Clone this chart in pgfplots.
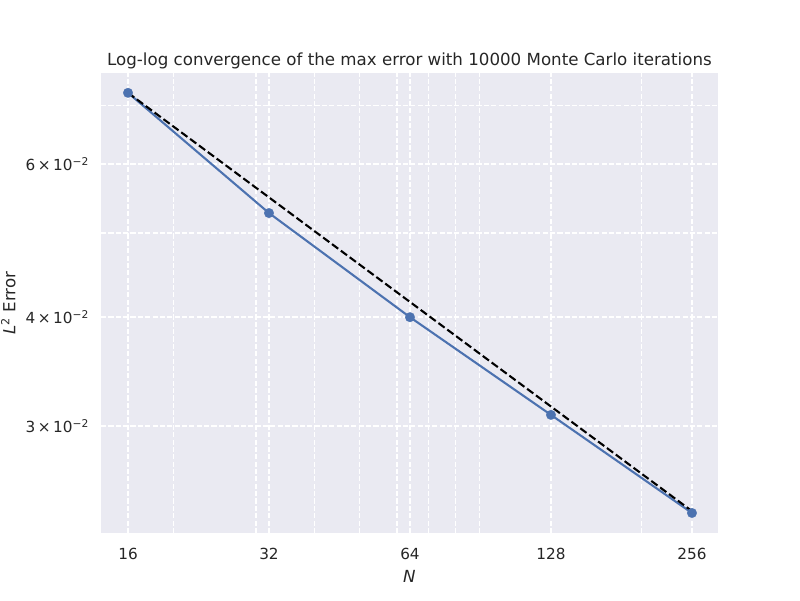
\documentclass[border=0pt]{standalone}
\usepackage{fontspec}
\setmainfont{DejaVu Sans}
\usepackage{pgfplots}
\pgfplotsset{compat=1.18}
\definecolor{sbbg}{HTML}{EAEAF2}
\definecolor{sbblue}{HTML}{4C72B0}
\definecolor{sbtext}{HTML}{262626}
\begin{document}
\begin{tikzpicture}
\path[use as bounding box] (-72.72pt,-48.24pt) rectangle (503.28pt,383.76pt);
\begin{axis}[
  scale only axis,
  width=444.2pt, height=331.2pt,
  xmode=log, ymode=log,
  xmin=14.01, xmax=290.9,
  ymin=0.0226, ymax=0.07632,
  axis background/.style={fill=sbbg},
  axis line style={draw=none},
  xtick={16,32,64,128,256},
  xticklabels={16,32,64,128,256},
  minor xtick={20,30,40,50,60,70,80,90,200},
  ytick={0.03,0.04,0.06},
  yticklabels={{3\,×\,10\textsuperscript{−2}},{4\,×\,10\textsuperscript{−2}},{6\,×\,10\textsuperscript{−2}}},
  minor ytick={0.05,0.07},
  major tick length=0pt, minor tick length=0pt,
  grid=both,
  major grid style={white, line width=1pt, dash pattern=on 3.7pt off 1.6pt},
  minor grid style={white, line width=1pt, dash pattern=on 3.7pt off 1.6pt},
  tick label style={font=\fontsize{11}{13}\selectfont, text=sbtext, inner sep=0pt},
  xticklabel style={anchor=north, yshift=-10.4pt},
  yticklabel style={anchor=east, xshift=-8.4pt},
  title={Log-log convergence of the max error with 10000 Monte Carlo iterations},
  title style={font=\fontsize{12}{14}\selectfont, text=sbtext, inner sep=0pt, at={(axis description cs:0.5,1)}, anchor=base, yshift=-0.7pt},
  xlabel={\itshape N},
  xlabel style={font=\fontsize{12}{14}\selectfont, text=sbtext, inner sep=0pt, at={(axis description cs:0.5,0)}, anchor=north, yshift=-26.6pt},
  ylabel={{\itshape L}\textsuperscript{2} Error},
  ylabel style={font=\fontsize{12}{14}\selectfont, text=sbtext, inner sep=0pt, at={(axis description cs:-0.1378,0.5)}, anchor=south},
  clip=false,
]
\addplot[sbblue, line width=1.5pt, mark=*, mark size=3.5pt, mark options={solid, fill=sbblue, draw=sbblue, line width=0.1pt}]
  coordinates {(16,0.07242) (32,0.05269) (64,0.0400) (128,0.03089) (256,0.02383)};
\addplot[black, line width=1.5pt, dash pattern=on 5.55pt off 2.4pt]
  coordinates {(16,0.07242) (256,0.02395)};
\end{axis}
\end{tikzpicture}
\end{document}
